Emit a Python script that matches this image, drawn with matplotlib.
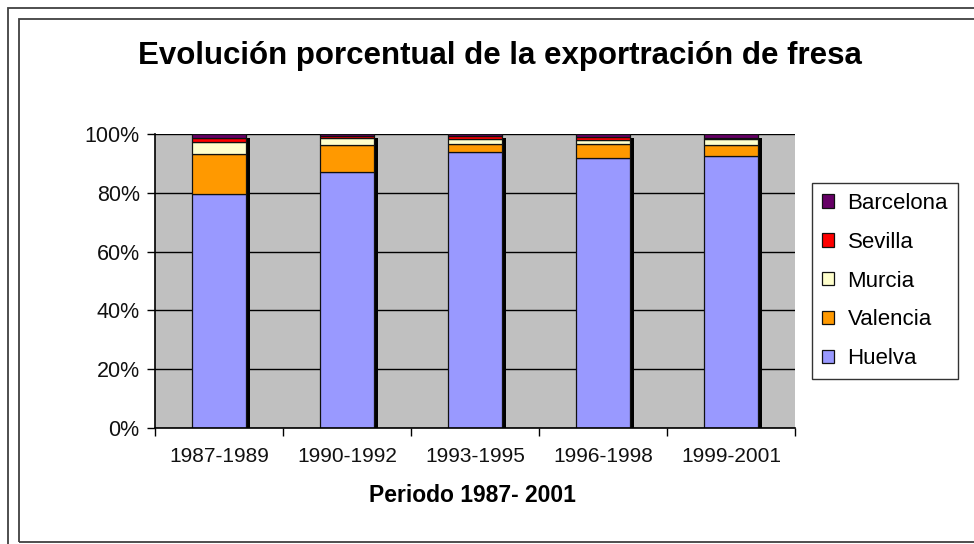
import matplotlib
matplotlib.use("Agg")
import matplotlib.pyplot as plt
import matplotlib.transforms as mtransforms
from matplotlib.patches import Rectangle
from matplotlib.ticker import FuncFormatter
import numpy as np

plt.rcParams['font.family'] = ['Liberation Sans', 'DejaVu Sans']

periods = ["1987-1989", "1990-1992", "1993-1995", "1996-1998", "1999-2001"]
huelva    = [79.5, 87.0, 94.0, 91.7, 92.4]
valencia  = [13.8, 9.3, 2.5, 4.9, 3.8]
murcia    = [4.1, 2.5, 1.7, 1.5, 2.2]
sevilla   = [1.4, 0.5, 1.0, 1.0, 0.4]
barcelona = [1.2, 0.7, 0.8, 0.9, 1.2]

series_names = ["Huelva", "Valencia", "Murcia", "Sevilla", "Barcelona"]
series_vals = [huelva, valencia, murcia, sevilla, barcelona]
colors = ["#9999FF", "#FF9900", "#FFFFCC", "#FF0000", "#660066"]

W, H = 974, 544
fig = plt.figure(figsize=(W / 100, H / 100), dpi=100)
fig.patch.set_facecolor("white")

# frame borders
fig.add_artist(Rectangle((8 / W, -0.1), 1.2, 1 - 8 / H + 0.1, transform=fig.transFigure,
                         fill=False, edgecolor="#404040", lw=1.3))
fig.add_artist(Rectangle((19 / W, 1 - 542 / H), 1.2, (542 - 19) / H, transform=fig.transFigure,
                         fill=False, edgecolor="#404040", lw=1.3))

left, right, top, bottom = 155, 795, 134, 428
ax = fig.add_axes([left / W, 1 - bottom / H, (right - left) / W, (bottom - top) / H])
ax.set_facecolor("#C0C0C0")

x = np.arange(len(periods))
width = 0.42

# normalise to 100%
arr = np.array(series_vals, dtype=float)
arr = arr / arr.sum(axis=0) * 100

shadow_tr = mtransforms.offset_copy(ax.transData, fig=fig, x=4, y=-4, units='dots')
bottoms = np.zeros(len(periods))
for vals in arr:
    ax.bar(x, vals, width, bottom=bottoms, color="black", edgecolor="black",
           linewidth=0, transform=shadow_tr, zorder=2)
    bottoms += vals

bottoms = np.zeros(len(periods))
for name, vals, c in zip(series_names, arr, colors):
    ax.bar(x, vals, width, bottom=bottoms, color=c, edgecolor="#111111",
           linewidth=0.9, label=name, zorder=3)
    bottoms += vals

ax.set_xlim(-0.5, len(periods) - 0.5)
ax.set_ylim(0, 100)
ax.set_yticks(np.arange(0, 101, 20))
ax.yaxis.set_major_formatter(FuncFormatter(lambda v, p: f"{int(v)}%"))
ax.grid(axis="y", color="black", linewidth=1.0, zorder=1)
ax.set_axisbelow(True)

ax.set_xticks(x)
ax.set_xticklabels(periods)
ax.set_xticks(np.arange(-0.5, len(periods)), minor=True)
ax.tick_params(axis="x", which="major", length=0, pad=14, labelsize=15, labelcolor="#111111")
ax.tick_params(axis="x", which="minor", length=6, width=1, direction="out", color="black")
ax.tick_params(axis="y", length=6, width=1, direction="out", pad=5, labelsize=15.5, labelcolor="#111111")

for s in ["top", "right"]:
    ax.spines[s].set_visible(False)
for s in ["left", "bottom"]:
    ax.spines[s].set_color("black")
    ax.spines[s].set_linewidth(1.2)
    ax.spines[s].set_zorder(5)

fig.text(499.5 / W, 1 - 56 / H, "Evolución porcentual de la exportración de fresa",
         ha="center", va="center", fontsize=22.5, fontweight="bold")
fig.text(472 / W, 1 - 495 / H, "Periodo 1987- 2001", ha="center", va="center",
         fontsize=16.5, fontweight="bold")

handles, labels = ax.get_legend_handles_labels()
leg = fig.legend(handles[::-1], labels[::-1], loc="upper left",
                 bbox_to_anchor=(812 / W, 1 - 183 / H), bbox_transform=fig.transFigure,
                 frameon=True, fancybox=False, edgecolor="black", fontsize=16,
                 handlelength=0.55, handleheight=0.55, handletextpad=0.6,
                 labelspacing=0.8, borderpad=0.45, borderaxespad=0)
leg.get_frame().set_linewidth(1.0)

fig.savefig("out.png", dpi=100, facecolor="white")
